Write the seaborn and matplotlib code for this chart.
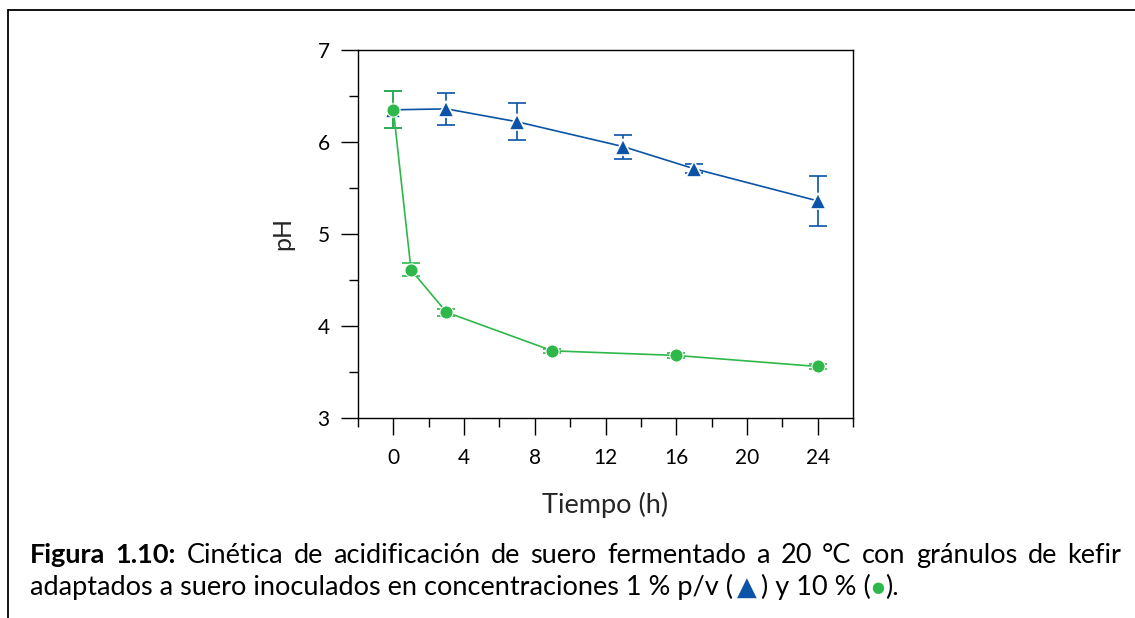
import numpy as np
import pandas as pd
import matplotlib
matplotlib.use("Agg")
import matplotlib.pyplot as plt
import seaborn as sns
from matplotlib.ticker import MultipleLocator
from matplotlib.transforms import IdentityTransform
from matplotlib.lines import Line2D

# ---------------- data ----------------
time_1pct = [0, 3, 7, 13, 17, 24]
ph_1pct = [6.35, 6.36, 6.22, 5.95, 5.71, 5.36]
err_1pct = [0.20, 0.17, 0.20, 0.13, 0.05, 0.27]

time_10pct = [0, 1, 3, 9, 16, 24]
ph_10pct = [6.35, 4.61, 4.15, 3.73, 3.68, 3.56]
err_10pct = [0.20, 0.07, 0.04, 0.02, 0.03, 0.03]

x_ticks = [0, 4, 8, 12, 16, 20, 24]
y_ticks = [3, 4, 5, 6, 7]

x_label = "Tiempo (h)"
y_label = "pH"
caption_line1 = ["Figura", "1.10:", "Cinética", "de", "acidificación", "de", "suero",
                 "fermentado", "a", "20", "°C", "con", "gránulos", "de", "kefir"]
caption_bold_words = 2
caption_line2_a = "adaptados a suero inoculados en concentraciones 1 % p/v ("
caption_line2_b = ") y 10 % ("
caption_line2_c = ")."

BLUE = "#0a53a6"
GREEN = "#2fb84a"

# ---------------- style ----------------
sns.set_theme(style="ticks")
plt.rcParams["font.family"] = ["Lato", "DejaVu Sans"]
plt.rcParams["axes.edgecolor"] = "black"
plt.rcParams["xtick.color"] = "black"
plt.rcParams["ytick.color"] = "black"
plt.rcParams["text.color"] = "black"

W, H = 1135, 618
fig = plt.figure(figsize=(W / 100, H / 100), dpi=100)
fig.patch.set_facecolor("white")
ax = fig.add_axes([358 / W, 1 - 418 / H, (853 - 358) / W, (418 - 50) / H])
ax.set_facecolor("white")

df1 = pd.DataFrame({"t": time_1pct, "ph": ph_1pct, "err": err_1pct})
df10 = pd.DataFrame({"t": time_10pct, "ph": ph_10pct, "err": err_10pct})

# 1 % series (blue triangles)
ax.errorbar(df1["t"], df1["ph"], yerr=df1["err"], fmt="none", ecolor=BLUE,
            elinewidth=1.2, capsize=6.5, capthick=1.2, zorder=2)
sns.lineplot(data=df1, x="t", y="ph", ax=ax, color=BLUE, marker="^",
             markersize=12, markeredgecolor="white", markeredgewidth=1.2,
             linewidth=1.2, zorder=3, legend=False, errorbar=None)

# 10 % series (green circles)
ax.errorbar(df10["t"], df10["ph"], yerr=df10["err"], fmt="none", ecolor=GREEN,
            elinewidth=1.2, capsize=6.5, capthick=1.2, zorder=4)
sns.lineplot(data=df10, x="t", y="ph", ax=ax, color=GREEN, marker="o",
             markersize=9.5, markeredgecolor="white", markeredgewidth=0.8,
             linewidth=1.2, zorder=5, legend=False, errorbar=None)

# axes limits & ticks
ax.set_xlim(-2, 26)
ax.set_ylim(3, 7)
ax.set_xticks(x_ticks)
ax.set_yticks(y_ticks)
ax.xaxis.set_minor_locator(MultipleLocator(2))
ax.yaxis.set_minor_locator(MultipleLocator(0.5))
ax.tick_params(axis="both", which="major", direction="out", length=12.5,
               width=1.0, labelsize=15, top=False, right=False)
ax.tick_params(axis="both", which="minor", direction="out", length=6.5,
               width=1.0, top=False, right=False)
ax.tick_params(axis="x", which="major", pad=9)
ax.tick_params(axis="y", which="major", pad=8)
for s in ax.spines.values():
    s.set_visible(True)
    s.set_linewidth(1.0)
    s.set_color("black")

ax.set_xlabel(x_label, fontsize=19.5)
ax.xaxis.set_label_coords(0.499, -0.2)
ax.set_ylabel(y_label, fontsize=18, va="center")
ax.yaxis.set_label_coords(-0.1515, 0.5)

# ---------------- frame lines of the figure panel ----------------
fig.add_artist(Line2D([8 / W, 8 / W], [0, 1 - 10 / H], transform=fig.transFigure,
                      color="black", lw=1.3))
fig.add_artist(Line2D([8 / W, 1], [1 - 10 / H, 1 - 10 / H], transform=fig.transFigure,
                      color="black", lw=1.3))

# ---------------- caption ----------------
renderer = fig.canvas.get_renderer()
ident = IdentityTransform()
X0, X1 = 30, 1121
BASE1, BASE2 = H - 563, H - 595


def width_of(a):
    return a.get_window_extent(renderer).width


# line 2 (mixed colours), fitted to its width in the reference
seg_a = fig.text(0, BASE2, caption_line2_a, transform=ident, va="baseline", ha="left")
tri = fig.text(0, BASE2, "▲", transform=ident, va="baseline", ha="left",
               color=BLUE, family="DejaVu Sans")
seg_b = fig.text(0, BASE2, caption_line2_b, transform=ident, va="baseline", ha="left")
dot = fig.text(0, BASE2 + 3, "●", transform=ident, va="baseline", ha="left",
               color=GREEN, family="DejaVu Sans")
seg_c = fig.text(0, BASE2, caption_line2_c, transform=ident, va="baseline", ha="left")
line2 = [(seg_a, 1.0, 4), (tri, 0.95, 4), (seg_b, 1.0, 1), (dot, 0.55, 1), (seg_c, 1.0, 0)]
target2 = 870
size = 18.0
for _ in range(3):
    for a, f, _g in line2:
        a.set_fontsize(size * f)
    total = sum(width_of(a) + g for a, f, g in line2)
    size *= target2 / total
for a, f, _g in line2:
    a.set_fontsize(size * f)
x = X0
for a, f, g in line2:
    a.set_x(x)
    x += width_of(a) + g

# line 1 (justified)
words = []
for i, w in enumerate(caption_line1):
    a = fig.text(0, BASE1, w, transform=ident, va="baseline", ha="left", fontsize=size,
                 fontweight="bold" if i < caption_bold_words else "normal")
    words.append(a)
probe2 = fig.text(0, 0, "a a", fontsize=size, transform=ident)
probe1 = fig.text(0, 0, "aa", fontsize=size, transform=ident)
space = width_of(probe2) - width_of(probe1)
probe1.remove()
probe2.remove()
ws = [width_of(a) for a in words]
gap = (X1 - X0 - sum(ws)) / (len(words) - 1)
if gap < space:
    s1 = size
    for _ in range(3):
        ws = [width_of(a) for a in words]
        s1 *= (X1 - X0 - space * (len(words) - 1)) / sum(ws)
        for a in words:
            a.set_fontsize(s1)
    ws = [width_of(a) for a in words]
    gap = (X1 - X0 - sum(ws)) / (len(words) - 1)
x = X0
for a, w in zip(words, ws):
    a.set_x(x)
    x += w + gap

fig.savefig("out.png", dpi=100, facecolor="white")
